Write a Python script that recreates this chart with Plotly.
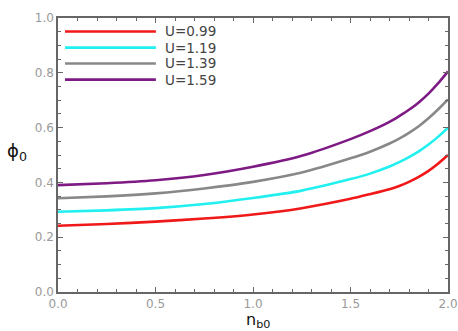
import plotly.graph_objects as go

# Data
n_b0 = [0.0, 0.25, 0.5, 0.75, 1.0, 1.25, 1.5, 1.6, 1.7, 1.75, 1.8, 1.85, 1.9, 1.95, 2.0]
phi_u099 = [0.242, 0.248, 0.257, 0.268, 0.283, 0.306, 0.340, 0.357, 0.375, 0.387, 0.402, 0.420, 0.442, 0.469, 0.500]
phi_u119 = [0.293, 0.298, 0.306, 0.321, 0.343, 0.370, 0.412, 0.432, 0.458, 0.474, 0.492, 0.513, 0.538, 0.567, 0.600]
phi_u139 = [0.342, 0.349, 0.360, 0.378, 0.402, 0.436, 0.488, 0.512, 0.542, 0.560, 0.581, 0.605, 0.634, 0.667, 0.703]
phi_u159 = [0.390, 0.397, 0.408, 0.427, 0.457, 0.497, 0.558, 0.587, 0.621, 0.642, 0.665, 0.692, 0.724, 0.762, 0.805]
series_names = ["U=0.99", "U=1.19", "U=1.39", "U=1.59"]
colors = ["#f01818", "#22f0f0", "#888888", "#7e1a84"]

series = [phi_u099, phi_u119, phi_u139, phi_u159]

fig = go.Figure()
for name, ys, c in zip(series_names, series, colors):
    fig.add_trace(go.Scatter(x=n_b0, y=ys, mode="lines", name=name,
                             line=dict(color=c, width=2.6, shape="spline", smoothing=0.6),
                             showlegend=False))

# Manual legend (long line samples like the original)
leg_y = [0.951, 0.892, 0.834, 0.775]
for name, c, yy in zip(series_names, colors, leg_y):
    fig.add_shape(type="line", xref="paper", yref="paper", x0=0.018, x1=0.251,
                  y0=yy, y1=yy, line=dict(color=c, width=2.6))
    fig.add_annotation(x=0.268, y=yy, xref="paper", yref="paper", text=name,
                       showarrow=False, xanchor="left", yanchor="middle",
                       font=dict(family="DejaVu Sans", size=13.5, color="#444444"))

axis_common = dict(showline=True, linecolor="#666666", linewidth=1.5, mirror="ticks",
                   ticks="inside", ticklen=5, tickcolor="#666666", tickwidth=1,
                   showgrid=False, zeroline=False,
                   tickfont=dict(family="DejaVu Sans", size=12, color="#999999"))

fig.update_xaxes(range=[0, 2], tickvals=[0, 0.5, 1.0, 1.5, 2.0],
                 ticktext=["0.0", "0.5", "1.0", "1.5", "2.0"],
                 minor=dict(dtick=0.1, ticks="inside", ticklen=3, tickcolor="#666666"),
                 **axis_common)
fig.update_yaxes(range=[0, 1], tickvals=[0, 0.2, 0.4, 0.6, 0.8, 1.0],
                 ticktext=["0.0", "0.2", "0.4", "0.6", "0.8", "1.0"],
                 minor=dict(dtick=0.05, ticks="inside", ticklen=3, tickcolor="#666666"),
                 **axis_common)

fig.add_annotation(x=-0.105, y=0.51, xref="paper", yref="paper",
                   text="ϕ<sub>0</sub>", showarrow=False, xanchor="center", yanchor="middle",
                   font=dict(family="DejaVu Sans", size=18, color="#111111"))
fig.add_annotation(x=0.512, y=-0.104, xref="paper", yref="paper",
                   text="n<sub>b0</sub>", showarrow=False, xanchor="center", yanchor="middle",
                   font=dict(family="DejaVu Sans", size=16, color="#111111"))

fig.update_layout(width=458, height=331,
                  margin=dict(l=58, r=10, t=18, b=39, autoexpand=False),
                  paper_bgcolor="white", plot_bgcolor="white")

# remove the default 8px page margin so the figure fills the window exactly
fig.write_html("out.html", config={"displayModeBar": False},
               post_script="document.body.style.margin='0';")
